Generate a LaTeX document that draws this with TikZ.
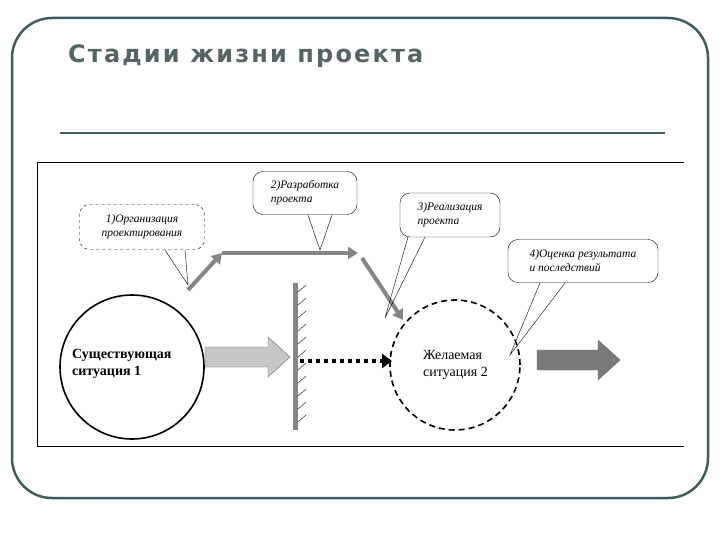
\documentclass[tikz,border=0pt]{standalone}
\usepackage{fontspec}
\setmainfont{Liberation Serif}
\newfontfamily\titlefont[LetterSpace=9]{DejaVu Sans}
\usetikzlibrary{arrows.meta}
\definecolor{frame}{HTML}{3F5F5F}
\definecolor{ttl}{HTML}{556565}
\definecolor{pathgray}{HTML}{858585}
\tikzset{
  callout/.style={draw,rounded corners=10pt,thin,fill=white,align=left,font=\itshape\fontsize{11.5}{14}\selectfont,inner sep=3pt},
  sit/.style={align=left,font=\bfseries\fontsize{14}{17}\selectfont},
  gpath/.style={draw=pathgray,line width=4pt,-{Triangle[length=10pt,width=12pt]}},
}
\begin{document}
\begin{tikzpicture}[x=1pt,y=-1pt]
\useasboundingbox (0,0) rectangle (720,540);
\draw[frame,line width=2.5pt,rounded corners=40pt] (12,18) rectangle (708,498);
\node[anchor=west,text=ttl,font=\titlefont\bfseries\fontsize{24}{28}\selectfont,inner sep=0pt] (title) at (68,56) {Стадии жизни проекта};
\draw[frame,line width=2pt] (60,133) -- (665,133);
\draw[thin] (684,162) -- (37,162) -- (37,446) -- (684,446);
% circles
\node[draw,line width=1.6pt,circle,minimum size=144pt] (c1) at (132,367) {};
\node[sit,anchor=west,inner sep=0pt] (t1) at (72,364) {Существующая\\ситуация 1};
\node[draw,line width=1.6pt,circle,dashed,dash pattern=on 6pt off 4pt,minimum size=130pt] (c2) at (455,365) {};
\node[sit,anchor=west,inner sep=0pt,font=\fontsize{14}{17}\selectfont] (t2) at (423,365) {Желаемая\\ситуация 2};
% block arrows
\draw[black!60,thin,fill=black!22] (205,347) -- (268,347) -- (268,337) -- (290,357) -- (268,377) -- (268,367) -- (205,367) -- cycle;
\draw[black!60,thin,fill=black!52] (537,350) -- (598,350) -- (598,340) -- (620,360) -- (598,380) -- (598,370) -- (537,370) -- cycle;
% wall
\draw[pathgray,line width=5pt] (295,283) coordinate (w1) -- (295,430) coordinate (w2);
\foreach \y in {292,305,...,428} \draw[thin] (298,\y) -- (306,\y-7);
% dotted arrow
\coordinate (d1) at (300,361);
\coordinate (d2) at (392,361);
\draw[line width=3.5pt,dash pattern=on 4pt off 4pt,-{Triangle[length=10pt,width=14pt]}] (d1) -- (d2);
% gray path
\coordinate (p0) at (188,290);
\coordinate (p1) at (222,253);
\coordinate (p2) at (358,253);
\coordinate (p3) at (362,258);
\coordinate (p4) at (403,320);
\draw[gpath] (p0) -- (p1);
\draw[gpath] (p1) -- (p2);
\draw[gpath] (p3) -- (p4);
% callouts
\node[callout,dashed,minimum width=125pt,minimum height=45pt,align=center] (k1) at (142,227) {1)Организация\\проектирования};
\draw[thin] (165,250) -- (188,285) -- (185,250);
\node[callout,minimum width=104pt,minimum height=43pt] (k2) at (305,193) {2)Разработка\\проекта};
\draw[thin] (308,215) -- (320,250) -- (332,215);
\node[callout,minimum width=100pt,minimum height=44pt] (k3) at (450,215) {3)Реализация\\проекта};
\draw[thin] (408,237) -- (385,318) -- (425,237);
\node[callout,minimum width=150pt,minimum height=43pt] (k4) at (583,261) {4)Оценка результата\\и последствий};
\draw[thin] (540,283) -- (510,355) -- (565,283);
\end{tikzpicture}
\end{document}
